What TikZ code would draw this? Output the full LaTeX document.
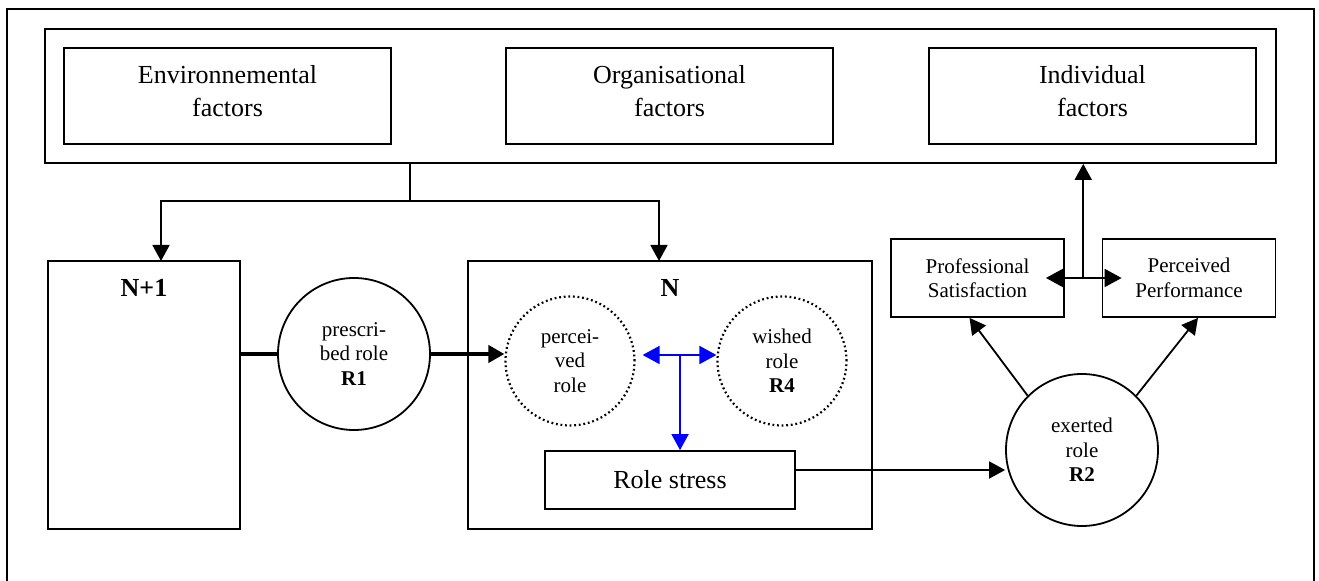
\documentclass[tikz,border=0pt]{standalone}
\usepackage{fontspec}
\setmainfont{Liberation Serif}
\usetikzlibrary{arrows.meta,calc}
\begin{document}
\begin{tikzpicture}[x=0.5pt,y=-0.5pt,line width=0.9pt,
  factor box/.style={draw,minimum width=163.5pt,minimum height=48pt,inner sep=0pt,text depth=5pt,align=center,font=\fontsize{13}{16.5}\selectfont},
  level box/.style={draw,minimum width=#1,minimum height=134pt,inner sep=0pt},
  role node/.style={circle,draw,minimum size=76pt,inner sep=0pt,align=center,font=\fontsize{10.5}{12.2}\selectfont},
  wish node/.style={circle,draw,dash pattern=on 0.9pt off 1.4pt,line width=1.1pt,minimum size=64.5pt,inner sep=0pt,align=center,font=\fontsize{10.5}{12.2}\selectfont},
  out box/.style={draw,minimum width=86.5pt,minimum height=39pt,inner sep=0pt,align=center,font=\fontsize{10.5}{12.2}\selectfont},
  arrow/.style={-{Triangle[length=8pt,width=8.5pt]}},
  both arrow/.style={{Triangle[length=8.5pt,width=9pt]}-{Triangle[length=8.5pt,width=9pt]}}]
\useasboundingbox (0,0) rectangle (1319,581);
\draw[line width=1pt] (7,600) -- (7,9) -- (1314,9) -- (1314,600);
% factors
\node[draw,minimum width=615.5pt,minimum height=67pt,inner sep=0pt] (factors) at (660.5,96) {};
\node[factor box] (env) at (227.5,96) {Environnemental\\factors};
\node[factor box] (org) at (669.5,96) {Organisational\\factors};
\node[factor box] (ind) at (1092.5,96) {Individual\\factors};
% levels
\node[level box=96pt] (n1) at (144,395) {};
\node[font=\fontsize{13}{16}\selectfont\bfseries] (n1lab) at (144,288) {N+1};
\node[level box=202pt] (n) at (670,395) {};
\node[font=\fontsize{13}{16}\selectfont\bfseries] (nlab) at (670,288) {N};
% roles
\node[role node] (r1) at (354,354) {prescri-\\bed role\\\textbf{R1}};
\node[wish node] (perc) at (570,361) {percei-\\ved\\role};
\node[wish node] (wish) at (782,361) {wished\\role\\\textbf{R4}};
\node[draw,minimum width=125pt,minimum height=29pt,inner sep=0pt,font=\fontsize{13}{16}\selectfont] (stress) at (670,480) {Role stress};
\node[role node] (r2) at (1082,450) {exerted\\role\\\textbf{R2}};
\node[out box] (sat) at (977.5,278) {Professional\\Satisfaction};
\node[out box] (perf) at (1189,278) {Perceived\\Performance};
% connectors
\coordinate (split) at (410,201);
\coordinate (n1in) at (161,261);
\coordinate (nin) at (659,261);
\draw (split |- factors.south) -- (split);
\draw[arrow] (split) -| (n1in);
\draw[arrow] (split) -| (nin);
\draw[line width=2pt] (n1.east |- r1) -- (r1);
\draw[line width=2pt,arrow] (r1) -- (r1.east -| perc.west);
\coordinate (tee) at ($([yshift=3pt]perc.east)!0.55!([yshift=3pt]wish.west)$);
\draw[blue,both arrow] ([xshift=3.5pt,yshift=3pt]perc.east) -- ([yshift=3pt]wish.west);
\draw[blue,arrow] (tee) -- (tee |- stress.north);
\draw[arrow] ([yshift=5pt]stress.east) -- ([yshift=5pt]stress.east -| r2.west);
\draw[arrow] (r2.135) -- ([xshift=-4pt]sat.south);
\draw[arrow] (r2.45) -- ([xshift=4.5pt]perf.south);
\coordinate (mid) at ($(sat.east)!0.5!(perf.west)$);
\draw[both arrow] ([xshift=-9.5pt]sat.east) -- ([xshift=10pt]perf.west);
\draw[arrow] (mid) -- (mid |- factors.south);
\end{tikzpicture}
\end{document}
